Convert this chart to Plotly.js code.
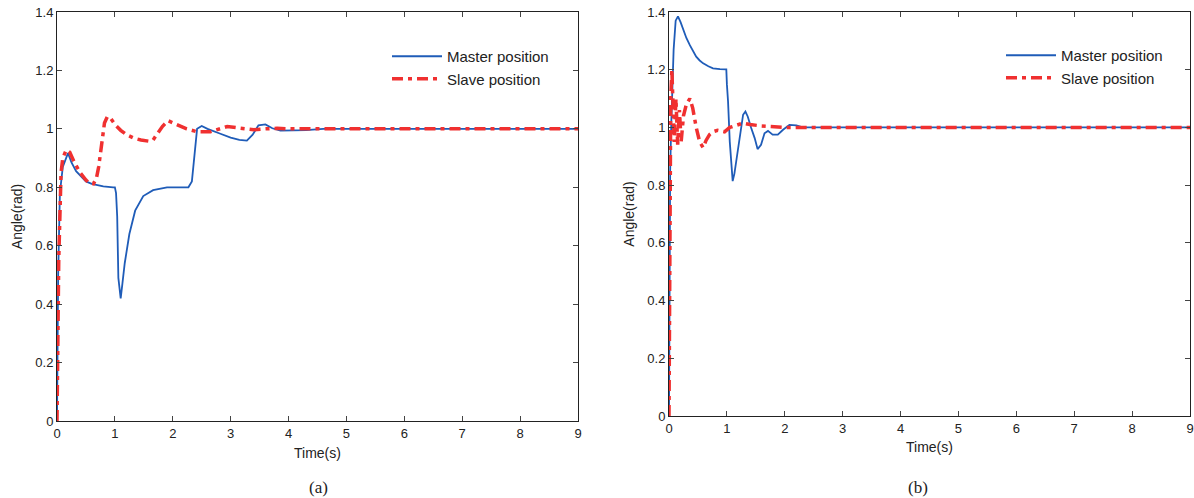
<!DOCTYPE html>
<html>
<head>
<meta charset="utf-8">
<script src="https://cdn.plot.ly/plotly-3.0.1.min.js"></script>
<style>html,body{margin:0;padding:0;background:#fff}#chart{width:1194px;height:498px}</style>
</head>
<body>
<div id="chart"></div>
<script>
// Panel (a)
const tA_master = [0, 0.02, 0.05, 0.1, 0.19, 0.25, 0.33, 0.42, 0.5, 0.6, 0.68, 0.8, 0.97, 1.0, 1.02, 1.04, 1.06, 1.1, 1.13, 1.17, 1.25, 1.35, 1.49, 1.66, 1.9, 2.27, 2.33, 2.39, 2.42, 2.5, 2.6, 2.8, 3.0, 3.15, 3.28, 3.38, 3.48, 3.6, 3.72, 3.86, 4.1, 4.3, 4.6, 5, 6, 7, 8, 9];
const vA_master = [0, 0.5, 0.78, 0.87, 0.917, 0.885, 0.855, 0.835, 0.82, 0.812, 0.808, 0.803, 0.80, 0.80, 0.78, 0.70, 0.49, 0.42, 0.47, 0.54, 0.64, 0.72, 0.77, 0.79, 0.80, 0.80, 0.82, 0.95, 1.0, 1.01, 1.0, 0.985, 0.97, 0.962, 0.96, 0.98, 1.012, 1.015, 1.002, 0.994, 0.994, 0.996, 1.0, 1.0, 1.0, 1.0, 1.0, 1.0];
const tA_slave = [0, 0.03, 0.07, 0.1, 0.16, 0.22, 0.3, 0.4, 0.5, 0.56, 0.63, 0.68, 0.72, 0.77, 0.82, 0.87, 0.93, 1.0, 1.1, 1.2, 1.33, 1.45, 1.58, 1.66, 1.74, 1.82, 1.92, 2.0, 2.1, 2.24, 2.42, 2.65, 2.8, 2.94, 3.1, 3.25, 3.4, 3.6, 3.8, 4.0, 4.5, 5, 6, 7, 8, 9];
const vA_slave = [0, 0.55, 0.85, 0.9, 0.928, 0.92, 0.885, 0.85, 0.825, 0.814, 0.812, 0.83, 0.87, 0.95, 1.02, 1.042, 1.035, 1.015, 0.995, 0.98, 0.968, 0.962, 0.958, 0.962, 0.985, 1.008, 1.028, 1.022, 1.012, 1.0, 0.99, 0.99, 1.0, 1.008, 1.004, 1.0, 0.997, 1.0, 1.002, 1.0, 1.0, 1.0, 1.0, 1.0, 1.0, 1.0];

// Panel (b)
const tB_master = [0, 0.02, 0.04, 0.08, 0.115, 0.155, 0.2, 0.24, 0.3, 0.36, 0.42, 0.47, 0.53, 0.59, 0.68, 0.76, 0.88, 0.99, 1.0, 1.02, 1.05, 1.08, 1.1, 1.13, 1.16, 1.22, 1.28, 1.32, 1.36, 1.42, 1.48, 1.53, 1.59, 1.65, 1.71, 1.79, 1.88, 1.97, 2.08, 2.2, 2.31, 2.5, 3, 4, 5, 6, 7, 8, 9];
const vB_master = [0, 0.85, 1.02, 1.27, 1.37, 1.385, 1.365, 1.343, 1.31, 1.285, 1.262, 1.245, 1.232, 1.222, 1.212, 1.205, 1.202, 1.201, 1.15, 1.09, 0.95, 0.86, 0.814, 0.84, 0.88, 0.975, 1.044, 1.055, 1.038, 0.998, 0.963, 0.925, 0.94, 0.98, 0.988, 0.975, 0.975, 0.992, 1.009, 1.007, 1.0, 1.0, 1.0, 1.0, 1.0, 1.0, 1.0, 1.0, 1.0];
const tB_slave = [0, 0.01, 0.03, 0.05, 0.07, 0.09, 0.12, 0.15, 0.18, 0.21, 0.25, 0.3, 0.36, 0.41, 0.47, 0.53, 0.59, 0.64, 0.7, 0.76, 0.84, 0.96, 1.05, 1.16, 1.28, 1.4, 1.6, 2.0, 2.5, 3, 4, 5, 6, 7, 8, 9];
const vB_slave = [0, 0.6, 1.1, 1.2, 1.05, 0.95, 1.1, 0.94, 1.06, 0.95, 1.04, 1.08, 1.10, 1.067, 1.0, 0.95, 0.93, 0.955, 0.975, 0.985, 0.99, 0.985, 1.0, 1.007, 1.015, 1.01, 1.005, 1.0, 1.0, 1.0, 1.0, 1.0, 1.0, 1.0, 1.0, 1.0];

const xTicks = [0, 1, 2, 3, 4, 5, 6, 7, 8, 9];
const yTicks = [0, 0.2, 0.4, 0.6, 0.8, 1, 1.2, 1.4];
const yTickText = ['0', '0.2', '0.4', '0.6', '0.8', '1', '1.2', '1.4'];
const seriesNames = ['Master position', 'Slave position'];
const panelLabels = ['(a)', '(b)'];

const blue = '#1f5cb8';
const red = '#f03030';
const dashPat = '11px,5px,4px,5px';

const traces = [
  {x: tA_master, y: vA_master, name: seriesNames[0], mode: 'lines', line: {color: blue, width: 1.8}, xaxis: 'x', yaxis: 'y', legend: 'legend'},
  {x: tA_slave, y: vA_slave, name: seriesNames[1], mode: 'lines', line: {color: red, width: 3.5, dash: dashPat}, xaxis: 'x', yaxis: 'y', legend: 'legend'},
  {x: tB_master, y: vB_master, name: seriesNames[0], mode: 'lines', line: {color: blue, width: 1.8}, xaxis: 'x2', yaxis: 'y2', legend: 'legend2'},
  {x: tB_slave, y: vB_slave, name: seriesNames[1], mode: 'lines', line: {color: red, width: 3.5, dash: dashPat}, xaxis: 'x2', yaxis: 'y2', legend: 'legend2'}
];

const W = 1194, H = 498;
const tickFont = {family: 'Liberation Sans, Arial, sans-serif', size: 13, color: '#222'};
const titleFont = {family: 'Liberation Sans, Arial, sans-serif', size: 14, color: '#222'};
const legFont = {family: 'Liberation Sans, Arial, sans-serif', size: 15, color: '#222'};
function xax(l, r, anchor, standoff) {
  return {domain: [l / W, r / W], range: [0, 9], tickvals: xTicks, ticks: 'inside', ticklen: 5, mirror: 'ticks',
    showline: true, linecolor: '#222', linewidth: 1, showgrid: false, zeroline: false, anchor: anchor,
    tickfont: tickFont, title: {text: 'Time(s)', font: titleFont, standoff: standoff}};
}
function yax(top, bot, anchor) {
  return {domain: [(H - bot) / H, (H - top) / H], range: [0, 1.4], tickvals: yTicks, ticktext: yTickText, ticks: 'inside', ticklen: 5, mirror: 'ticks',
    showline: true, linecolor: '#222', linewidth: 1, showgrid: false, zeroline: false, anchor: anchor,
    tickfont: tickFont, title: {text: 'Angle(rad)', font: titleFont, standoff: 9}};
}

const layout = {
  width: W, height: H, margin: {l: 0, r: 0, t: 0, b: 0}, paper_bgcolor: '#fff', plot_bgcolor: '#fff',
  font: tickFont, showlegend: true,
  xaxis: xax(57, 578, 'y', 8), yaxis: yax(12, 421, 'x'),
  xaxis2: xax(669, 1190, 'y2', 7), yaxis2: yax(12, 416, 'x2'),
  legend: {x: 387 / W, y: (H - 40) / H, xanchor: 'left', yanchor: 'top', bgcolor: 'rgba(0,0,0,0)', borderwidth: 0, font: legFont, itemwidth: 50, tracegroupgap: 0},
  legend2: {x: 1001 / W, y: (H - 39) / H, xanchor: 'left', yanchor: 'top', bgcolor: 'rgba(0,0,0,0)', borderwidth: 0, font: legFont, itemwidth: 50, tracegroupgap: 0},
  annotations: [
    {text: panelLabels[0], xref: 'paper', yref: 'paper', x: 318 / W, y: (H - 487) / H, yanchor: 'middle', xanchor: 'center', showarrow: false, font: {family: 'Liberation Serif, serif', size: 17, color: '#222'}},
    {text: panelLabels[1], xref: 'paper', yref: 'paper', x: 918 / W, y: (H - 487) / H, yanchor: 'middle', xanchor: 'center', showarrow: false, font: {family: 'Liberation Serif, serif', size: 17, color: '#222'}}
  ]
};

Plotly.newPlot('chart', traces, layout, {staticPlot: true, displayModeBar: false});
</script>
</body>
</html>
